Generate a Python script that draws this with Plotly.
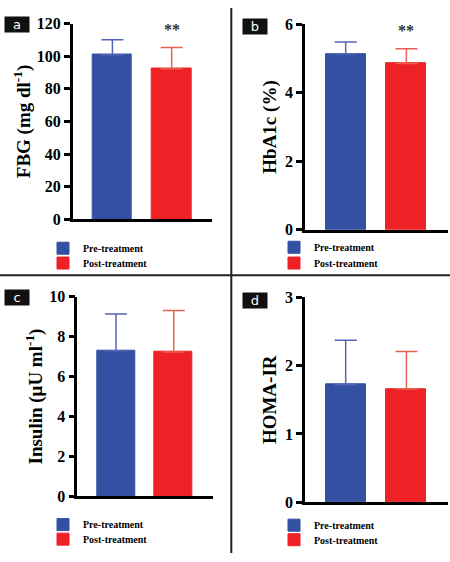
import plotly.graph_objects as go

groups = ["Pre-treatment", "Post-treatment"]
panel_letters = ["a", "b", "c", "d"]
titles = ["FBG (mg dl<sup>-1</sup>)", "HbA1c (%)", "Insulin (μU ml<sup>-1</sup>)", "HOMA-IR"]
fbg_mean = [100.8, 92.3]
fbg_sd = [9.3, 13.0]
hba1c_mean = [5.13, 4.85]
hba1c_sd = [0.35, 0.43]
insulin_mean = [7.30, 7.23]
insulin_sd = [1.83, 2.08]
homa_mean = [1.72, 1.656]
homa_sd = [0.65, 0.55]
y_ranges = [[0, 120], [0, 6], [0, 10], [0, 3]]
y_dtick = [20, 2, 2, 1]
significance = ["**", "**", "", ""]

means = [fbg_mean, hba1c_mean, insulin_mean, homa_mean]
sds = [fbg_sd, hba1c_sd, insulin_sd, homa_sd]

W, H = 450, 562
bar_colors = ["#3350A2", "#EE2126"]
err_colors = ["#5565B5", "#E8604F"]

# pixel layout of each panel: (x_left, x_right, y_top, y_bottom)
panels_px = [
    (72.7, 212, 16, 218),
    (305, 447.7, 16.7, 228.7),
    (77.3, 213, 297.7, 503.7),
    (305, 447.7, 298.3, 509.7),
]
title_standoff = [2, 4, 2, 4]
legend_x = [43, 274, 43, 274]
legend_y = [(247.7, 263), (246.7, 263), (532.7, 547.7), (533.3, 548.3)]
star_px = [(172, 21.7), (406, 23.3)]
label_px = [(16.5, 17.5), (255, 19), (17, 298.5), (255, 301.5)]

FONT = "Liberation Serif"

fig = go.Figure()
layout = {}
for i in range(4):
    n = "" if i == 0 else str(i + 1)
    xl, xr, yt, yb = panels_px[i]
    for g in range(2):
        k = i * 2 + g
        leg = "legend" if k == 0 else f"legend{k+1}"
        fig.add_trace(go.Bar(
            x=[g], y=[means[i][g]], name=groups[g],
            marker=dict(color=bar_colors[g], line=dict(color=bar_colors[g], width=1)),
            width=0.66,
            error_y=dict(type="data", array=[sds[i][g]], arrayminus=[0], symmetric=False,
                         color=err_colors[g], thickness=1.5, width=11),
            xaxis=f"x{n}", yaxis=f"y{n}", legend=leg, showlegend=True,
        ))
        layout[leg] = dict(
            x=legend_x[i] / W, y=1 - legend_y[i][g] / H, xanchor="left", yanchor="middle",
            font=dict(family=FONT, size=10, color="black", weight="bold"),
            bgcolor="rgba(0,0,0,0)", itemclick=False, itemdoubleclick=False,
        )
    layout[f"xaxis{n}"] = dict(
        domain=[xl / W, xr / W], range=[-0.67, 1.68], showticklabels=False,
        ticks="", showline=True, linecolor="black", linewidth=2.5, showgrid=False,
        zeroline=False, anchor=f"y{n}", fixedrange=True,
    )
    layout[f"yaxis{n}"] = dict(
        domain=[1 - yb / H, 1 - yt / H], range=y_ranges[i], dtick=y_dtick[i],
        ticks="outside", ticklen=6, tickwidth=2.5, tickcolor="black",
        showline=True, linecolor="black", linewidth=2.5, showgrid=False, zeroline=False,
        tickfont=dict(family=FONT, size=16, color="black", weight="bold"),
        title=dict(text=titles[i], font=dict(family=FONT, size=19, color="black", weight="bold"),
                   standoff=title_standoff[i]),
        anchor=f"x{n}", fixedrange=True,
    )

annotations = []
for i in range(4):
    if significance[i]:
        sx, sy = star_px[i]
        annotations.append(dict(
            text=significance[i], x=sx / W, y=1 - sy / H, xref="paper", yref="paper",
            showarrow=False, font=dict(family=FONT, size=16, color="#333", weight="bold"),
            xanchor="center", yanchor="middle",
        ))
    cx, cy = label_px[i]
    annotations.append(dict(
        text=panel_letters[i], x=cx / W, y=1 - cy / H, xref="paper", yref="paper",
        showarrow=False, bgcolor="#111", width=22, height=13,
        font=dict(family="DejaVu Sans", size=13, color="white"),
        xanchor="center", yanchor="middle", borderpad=1,
    ))

shapes = [
    dict(type="line", xref="paper", yref="paper", x0=231.3 / W, x1=231.3 / W, y0=0, y1=1,
         line=dict(color="#222", width=2)),
    dict(type="line", xref="paper", yref="paper", x0=0, x1=1, y0=1 - 275.5 / H, y1=1 - 275.5 / H,
         line=dict(color="#222", width=2)),
]

fig.update_layout(
    width=W, height=H, margin=dict(l=0, r=0, t=0, b=0),
    paper_bgcolor="white", plot_bgcolor="white",
    barmode="group", bargap=0, showlegend=True,
    annotations=annotations, shapes=shapes, **layout,
)
fig.write_html("out.html", config={"displayModeBar": False},
               post_script="document.body.style.margin='0';document.body.style.overflow='hidden';")
